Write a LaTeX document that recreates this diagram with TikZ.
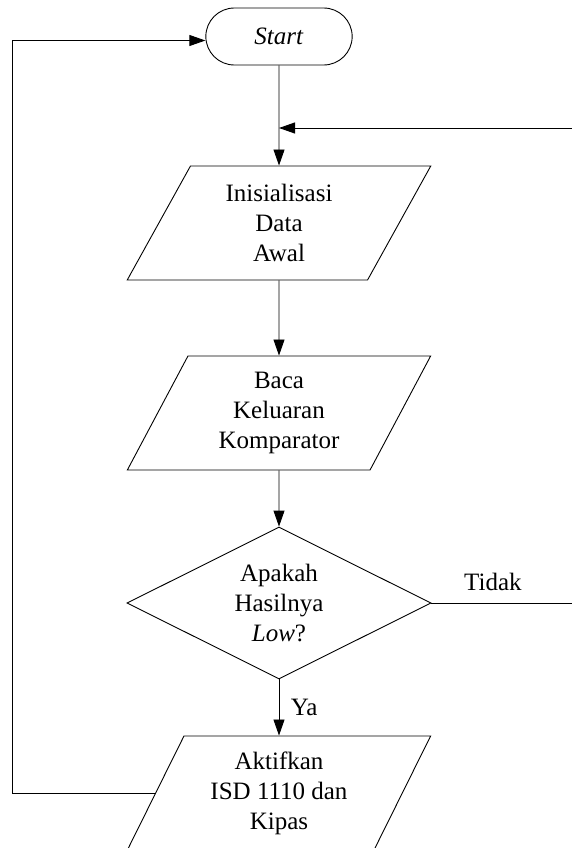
\documentclass[tikz,border=0pt]{standalone}
\usepackage{fontspec}
\setmainfont{Liberation Serif}
\usetikzlibrary{shapes.geometric,shapes.misc,arrows.meta,positioning}

\begin{document}
\begin{tikzpicture}[
    x=1pt, y=1pt,
    line width=0.9pt,
    every node/.style={font=\fontsize{25}{30}\selectfont},
    terminal/.style={rounded rectangle, draw, minimum width=153pt, minimum height=57pt},
    io/.style={trapezium, draw, trapezium left angle=63.8, trapezium right angle=116.2, trapezium stretches=true, minimum width=304pt, minimum height=114pt, align=center, inner sep=0pt},
    decision/.style={diamond, draw, aspect=2, minimum width=304pt, minimum height=152pt, align=center, inner sep=0pt},
    flow/.style={-{Triangle[length=16pt,width=11pt]}}
]
    \useasboundingbox (0,0) rectangle (571,-848);

    \node[terminal] (start) at (279,-36.5) {\textit{Start}};
    \node[io] (init) at (279,-223) {Inisialisasi\\Data\\Awal};
    \node[io] (read) at (279,-413) {Baca\\Keluaran\\Komparator};
    \node[decision] (check) at (279,-603) {Apakah\\Hasilnya\\\textit{Low}?};
    \node[io] (act) at (279,-793) {Aktifkan\\ISD 1110 dan\\Kipas};

    \coordinate (lft) at (12,0);
    \coordinate (rgt) at (585,0);
    \coordinate (join) at (279,-128);

    \draw[flow] (start) -- (init);
    \draw[flow] (init) -- (read);
    \draw[flow] (read) -- (check);
    \draw[flow] (check) -- node[right, xshift=8pt] {Ya} (act);
    % Tidak: back to the top
    \draw[flow] (check.east) -- node[above, yshift=8pt, pos=0.4] {Tidak} (check.east -| rgt) |- (join);
    \draw[flow] (act.west) -- (act.west -| lft) |- ([yshift=-4pt]start.west);
\end{tikzpicture}
\end{document}
